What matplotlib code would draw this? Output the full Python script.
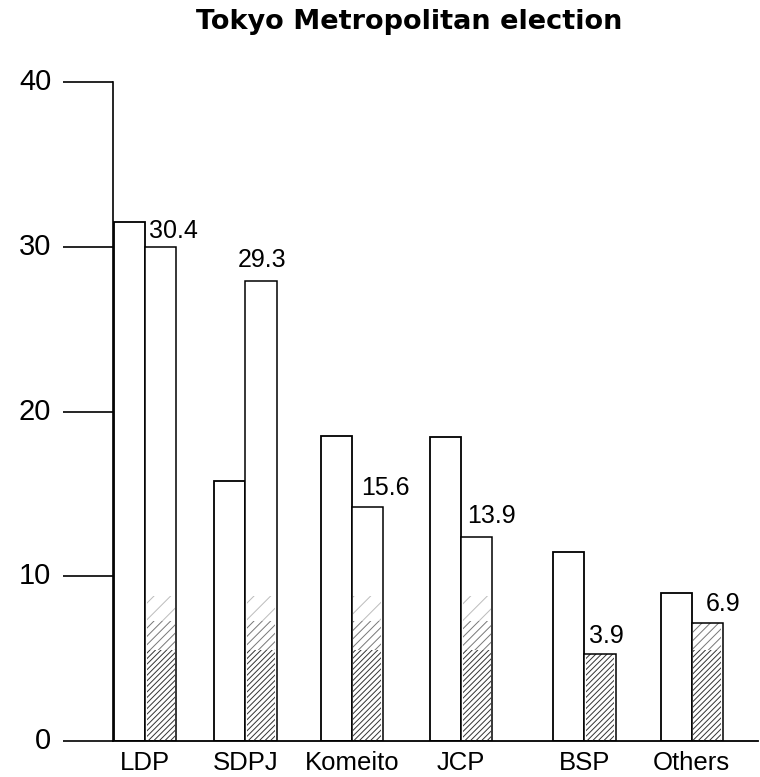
import matplotlib
matplotlib.use("Agg")
import matplotlib.pyplot as plt

# ---- data ----
parties = ["LDP", "SDPJ", "Komeito", "JCP", "BSP", "Others"]
previous = [31.5, 15.8, 18.5, 18.45, 11.5, 9.0]
current = [30.0, 27.9, 14.2, 12.4, 5.3, 7.15]
current_labels = ["30.4", "29.3", "15.6", "13.9", "3.9", "6.9"]
yticks = [0, 10, 20, 30, 40]

# ---- layout ----
group_pos = [0.0, 1.0, 2.06, 3.15, 4.38, 5.45]
bar_w = 0.31
label_dx = [13, 1, 18, 15, 6, 16]     # pixels
label_dy = [16, 21, 19, 21, 18, 19]   # pixels

plt.rcParams["font.family"] = ["Liberation Sans", "DejaVu Sans"]
plt.rcParams["hatch.linewidth"] = 0.7

fig = plt.figure(figsize=(7.6, 7.77), dpi=100)
ax = fig.add_axes([113 / 760, 36 / 777, 645 / 760, 659 / 777])

lw = 1.3
# shading bands (style only) at the bottom of the current bar
bands = [(0.0, 5.5, "//////", "#333333"),
         (5.5, 7.3, "////", "#777777"),
         (7.3, 8.8, "//", "#bbbbbb")]
for x, p, c in zip(group_pos, previous, current):
    ax.bar(x - bar_w / 2, p, width=bar_w, facecolor="white", edgecolor="black",
           linewidth=lw, zorder=2)
    ax.bar(x + bar_w / 2, c, width=bar_w, facecolor="white", edgecolor="none",
           linewidth=0, zorder=2)
    for lo, hi, h, col in bands:
        top = min(c, hi)
        if top > lo:
            ax.bar(x + bar_w / 2, top - lo, bottom=lo, width=bar_w * 0.9,
                   facecolor="none", edgecolor=col, hatch=h,
                   linewidth=0, zorder=3)
    ax.bar(x + bar_w / 2, c, width=bar_w, facecolor="none", edgecolor="black",
           linewidth=1.1, zorder=4)

for x, c, t, dx, dy in zip(group_pos, current, current_labels, label_dx, label_dy):
    ax.annotate(t, xy=(x + bar_w / 2, c), xytext=(dx, dy),
                textcoords="offset pixels", ha="center", va="center",
                fontsize=18, color="black")

ax.set_xlim(-0.32, 6.11)
ax.set_ylim(0, 40)
ax.set_yticks(yticks)
ax.set_yticklabels([str(v) for v in yticks], fontsize=21)
ax.tick_params(axis="y", length=36, width=1.2, pad=8.5, direction="out")
ax.set_xticks(group_pos)
ax.set_xticklabels(parties, fontsize=18.5)
ax.tick_params(axis="x", length=0, pad=7)

for s in ["top", "right"]:
    ax.spines[s].set_visible(False)
ax.spines["left"].set_linewidth(1.2)
ax.spines["bottom"].set_linewidth(1.3)
for lab in ax.get_yticklabels():
    lab.set_verticalalignment("center")

fig.text(409 / 760, 1 - 22 / 777, "Tokyo Metropolitan election", ha="center",
         va="center", fontsize=19.5, fontweight="bold", family="DejaVu Sans")

fig.savefig("out.png", dpi=100)
